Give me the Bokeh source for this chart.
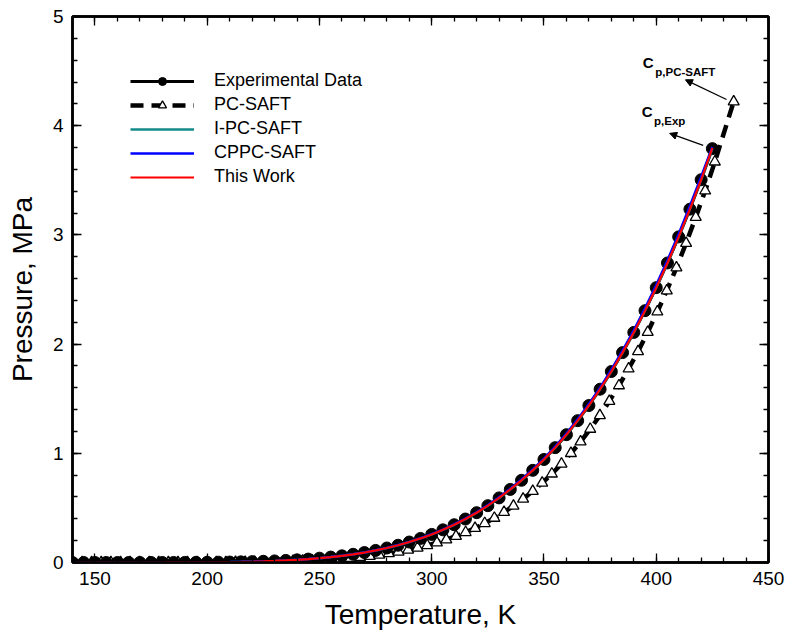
from bokeh.plotting import figure
from bokeh.models import (Range1d, LinearAxis, SingleIntervalTicker, CustomJSTickFormatter,
                          Legend, LegendItem, Arrow, NormalHead, Label)
from bokeh.embed import file_html
from bokeh.resources import INLINE

# ---------------- data ----------------
T_exp = [140, 145, 150, 155, 160, 165, 170, 175, 180, 185, 190, 195, 200, 205, 210, 215,
         220, 225, 230, 235, 240, 245, 250, 255, 260, 265, 270, 275, 280, 285, 290, 295,
         300, 305, 310, 315, 320, 325, 330, 335, 340, 345, 350, 355, 360, 365, 370, 375,
         380, 385, 390, 395, 400, 405, 410, 415, 420, 425]
P_exp = [0.0000, 0.0000, 0.0000, 0.0000, 0.0000, 0.0001, 0.0001, 0.0002, 0.0003, 0.0005,
         0.0009, 0.0013, 0.0020, 0.0029, 0.0041, 0.0058, 0.0080, 0.0108, 0.0144, 0.0189,
         0.0244, 0.0312, 0.0395, 0.0494, 0.0612, 0.0750, 0.0912, 0.1106, 0.1327, 0.1582,
         0.1874, 0.2205, 0.2572, 0.2990, 0.3458, 0.3980, 0.4561, 0.5205, 0.5916, 0.6692,
         0.7529, 0.8440, 0.9435, 1.0518, 1.1705, 1.2990, 1.4375, 1.5870, 1.7490, 1.9220,
         2.1070, 2.3060, 2.5170, 2.7430, 2.9820, 3.2360, 3.5050, 3.7900]

T_pcsaft = [140.0, 144.3, 148.5, 152.8, 157.1, 161.4, 165.6, 169.9, 174.2, 178.4, 182.7,
            187.0, 191.2, 195.5, 199.8, 204.1, 208.3, 212.6, 216.9, 221.1, 225.4, 229.7,
            233.9, 238.2, 242.5, 246.8, 251.0, 255.3, 259.6, 263.8, 268.1, 272.4, 276.6,
            280.9, 285.2, 289.5, 293.7, 298.0, 302.3, 306.5, 310.8, 315.1, 319.3, 323.6,
            327.9, 332.2, 336.4, 340.7, 345.0, 349.2, 353.5, 357.8, 362.0, 366.3, 370.6,
            374.9, 379.1, 383.4, 387.7, 391.9, 396.2, 400.5, 404.7, 409.0, 413.3, 417.6,
            421.8, 426.1, 434.5]
P_pcsaft = [0.0000, 0.0000, 0.0000, 0.0000, 0.0000, 0.0000, 0.0000, 0.0001, 0.0001, 0.0001,
            0.0002, 0.0003, 0.0004, 0.0006, 0.0009, 0.0012, 0.0017, 0.0023, 0.0031, 0.0041,
            0.0053, 0.0069, 0.0088, 0.0112, 0.0141, 0.0177, 0.0218, 0.0269, 0.0330, 0.0400,
            0.0484, 0.0582, 0.0692, 0.0823, 0.0974, 0.1146, 0.1339, 0.1561, 0.1812, 0.2089,
            0.2405, 0.2761, 0.3145, 0.3584, 0.4066, 0.4603, 0.5179, 0.5822, 0.6531, 0.7284,
            0.8122, 0.9030, 1.0000, 1.1060, 1.2220, 1.3460, 1.4770, 1.6200, 1.7740, 1.9330,
            2.1090, 2.2960, 2.4890, 2.7000, 2.9240, 3.1620, 3.4040, 3.6690, 4.2200]

T_model = T_exp
P_ipcsaft = [0.0000, 0.0000, 0.0000, 0.0000, 0.0000, 0.0001, 0.0001, 0.0002, 0.0003, 0.0005,
             0.0009, 0.0013, 0.0020, 0.0029, 0.0041, 0.0058, 0.0080, 0.0108, 0.0144, 0.0189,
             0.0244, 0.0312, 0.0395, 0.0494, 0.0612, 0.0750, 0.0912, 0.1106, 0.1327, 0.1582,
             0.1874, 0.2205, 0.2572, 0.2990, 0.3458, 0.3980, 0.4561, 0.5205, 0.5916, 0.6692,
             0.7529, 0.8440, 0.9435, 1.0518, 1.1705, 1.2990, 1.4375, 1.5870, 1.7490, 1.9220,
             2.1070, 2.3060, 2.5170, 2.7430, 2.9820, 3.2360, 3.5050, 3.7900]
P_cppcsaft = [0.0000, 0.0000, 0.0000, 0.0000, 0.0000, 0.0001, 0.0001, 0.0002, 0.0003, 0.0005,
              0.0009, 0.0013, 0.0020, 0.0029, 0.0041, 0.0058, 0.0081, 0.0109, 0.0146, 0.0191,
              0.0247, 0.0316, 0.0400, 0.0500, 0.0619, 0.0759, 0.0923, 0.1115, 0.1338, 0.1595,
              0.1890, 0.2224, 0.2594, 0.3016, 0.3488, 0.4015, 0.4601, 0.5252, 0.5969, 0.6753,
              0.7598, 0.8518, 0.9522, 1.0616, 1.1814, 1.3111, 1.4509, 1.6018, 1.7653, 1.9398,
              2.1265, 2.3272, 2.5400, 2.7680, 3.0090, 3.2650, 3.5330, 3.8050]
P_thiswork = [0.0000, 0.0000, 0.0000, 0.0000, 0.0000, 0.0001, 0.0001, 0.0002, 0.0003, 0.0005,
              0.0009, 0.0013, 0.0020, 0.0029, 0.0041, 0.0058, 0.0080, 0.0108, 0.0144, 0.0189,
              0.0244, 0.0312, 0.0395, 0.0494, 0.0612, 0.0750, 0.0912, 0.1106, 0.1327, 0.1582,
              0.1874, 0.2205, 0.2572, 0.2990, 0.3458, 0.3980, 0.4561, 0.5205, 0.5916, 0.6692,
              0.7529, 0.8440, 0.9435, 1.0518, 1.1705, 1.2990, 1.4375, 1.5870, 1.7490, 1.9220,
              2.1070, 2.3060, 2.5170, 2.7430, 2.9820, 3.2360, 3.5050, 3.7960]

x_ticks_interval = 50
y_ticks_interval = 1

FONT = "Liberation Sans"

# ---------------- figure ----------------
p = figure(width=786, height=636, output_backend="svg", toolbar_location=None,
           x_range=Range1d(140, 450), y_range=Range1d(0, 5),
           min_border_left=72, min_border_right=18, min_border_top=16, min_border_bottom=74,
           x_axis_label="Temperature, K", y_axis_label="Pressure, MPa")
p.grid.visible = False
p.background_fill_color = "white"
p.border_fill_color = "white"
p.outline_line_color = "black"
p.outline_line_width = 2.5

xt = SingleIntervalTicker(interval=x_ticks_interval, num_minor_ticks=5)
yt = SingleIntervalTicker(interval=y_ticks_interval, num_minor_ticks=5)
p.xaxis.ticker = xt
p.yaxis.ticker = yt

def style_axis(ax):
    ax.axis_line_width = 2.5
    ax.axis_line_color = "black"
    ax.major_tick_in = 9
    ax.major_tick_out = 0
    ax.minor_tick_in = 5
    ax.minor_tick_out = 0
    ax.major_tick_line_width = 1.3
    ax.minor_tick_line_width = 1.3
    ax.major_label_text_font = FONT
    ax.major_label_text_font_size = "19px"
    ax.major_label_text_color = "black"
    ax.axis_label_text_font = FONT
    ax.axis_label_text_font_size = "28px"
    ax.axis_label_text_font_style = "normal"
    ax.axis_label_text_color = "black"

for ax in p.xaxis + p.yaxis:
    style_axis(ax)
p.xaxis.major_label_standoff = 9
p.xaxis.axis_label_standoff = 11
p.yaxis.major_label_standoff = 9
p.yaxis.axis_label_standoff = 12

blank = CustomJSTickFormatter(code="return ''")
top_ax = LinearAxis(ticker=SingleIntervalTicker(interval=x_ticks_interval, num_minor_ticks=5),
                    formatter=blank, major_label_standoff=0)
right_ax = LinearAxis(ticker=SingleIntervalTicker(interval=y_ticks_interval, num_minor_ticks=5),
                      formatter=blank, major_label_standoff=0)
style_axis(top_ax)
style_axis(right_ax)
p.add_layout(top_ax, "above")
p.add_layout(right_ax, "right")

# ---------------- glyphs ----------------
r_pc_line = p.line(T_pcsaft, P_pcsaft, line_color="black", line_width=4.5, line_dash="13 8")
r_pc_pts = p.scatter(T_pcsaft, P_pcsaft, marker="triangle", size=11, fill_color="white",
                     line_color="black", line_width=1.3)
r_exp_line = p.line(T_exp, P_exp, line_color="black", line_width=3)
r_exp_pts = p.scatter(T_exp, P_exp, marker="circle", size=12, fill_color="black",
                      line_color="black")
r_ipc = p.line(T_model, P_ipcsaft, line_color="#158a8a", line_width=2.5)
r_cppc = p.line(T_model, P_cppcsaft, line_color="#0000ff", line_width=2.5)
r_tw = p.line(T_model, P_thiswork, line_color="#ff0000", line_width=2.2)

legend = Legend(items=[
    LegendItem(label="Experimental Data", renderers=[r_exp_line, r_exp_pts]),
    LegendItem(label="PC-SAFT", renderers=[r_pc_line, r_pc_pts]),
    LegendItem(label="I-PC-SAFT", renderers=[r_ipc]),
    LegendItem(label="CPPC-SAFT", renderers=[r_cppc]),
    LegendItem(label="This Work", renderers=[r_tw]),
], location=(58, 375))
legend.border_line_color = None
legend.background_fill_alpha = 0
legend.padding = 0
legend.margin = 0
legend.spacing = 3
legend.glyph_width = 64
legend.glyph_height = 20
legend.label_height = 20
legend.label_standoff = 20
legend.label_text_font = FONT
legend.label_text_font_size = "18px"
legend.label_text_color = "black"
p.add_layout(legend, "center")

# ---------------- annotations ----------------
p.add_layout(Arrow(end=NormalHead(size=7, fill_color="black", line_color="black", line_width=1),
                   x_start=431.3, y_start=4.24, x_end=413.0, y_end=4.42,
                   line_color="black", line_width=1.2))
p.add_layout(Arrow(end=NormalHead(size=7, fill_color="black", line_color="black", line_width=1),
                   x_start=420.9, y_start=3.82, x_end=406.0, y_end=3.93,
                   line_color="black", line_width=1.2))
p.add_layout(Label(x=394.0, y=4.50, text="C", text_font=FONT, text_font_size="15px",
                   text_font_style="bold", text_color="black"))
p.add_layout(Label(x=399.6, y=4.44, text="p,PC-SAFT", text_font=FONT, text_font_size="11.5px",
                   text_font_style="bold", text_color="black"))
p.add_layout(Label(x=393.6, y=4.05, text="C", text_font=FONT, text_font_size="15px",
                   text_font_style="bold", text_color="black"))
p.add_layout(Label(x=399.0, y=3.99, text="p,Exp", text_font=FONT, text_font_size="11.5px",
                   text_font_style="bold", text_color="black"))

open("out.html", "w").write(file_html(p, INLINE))
